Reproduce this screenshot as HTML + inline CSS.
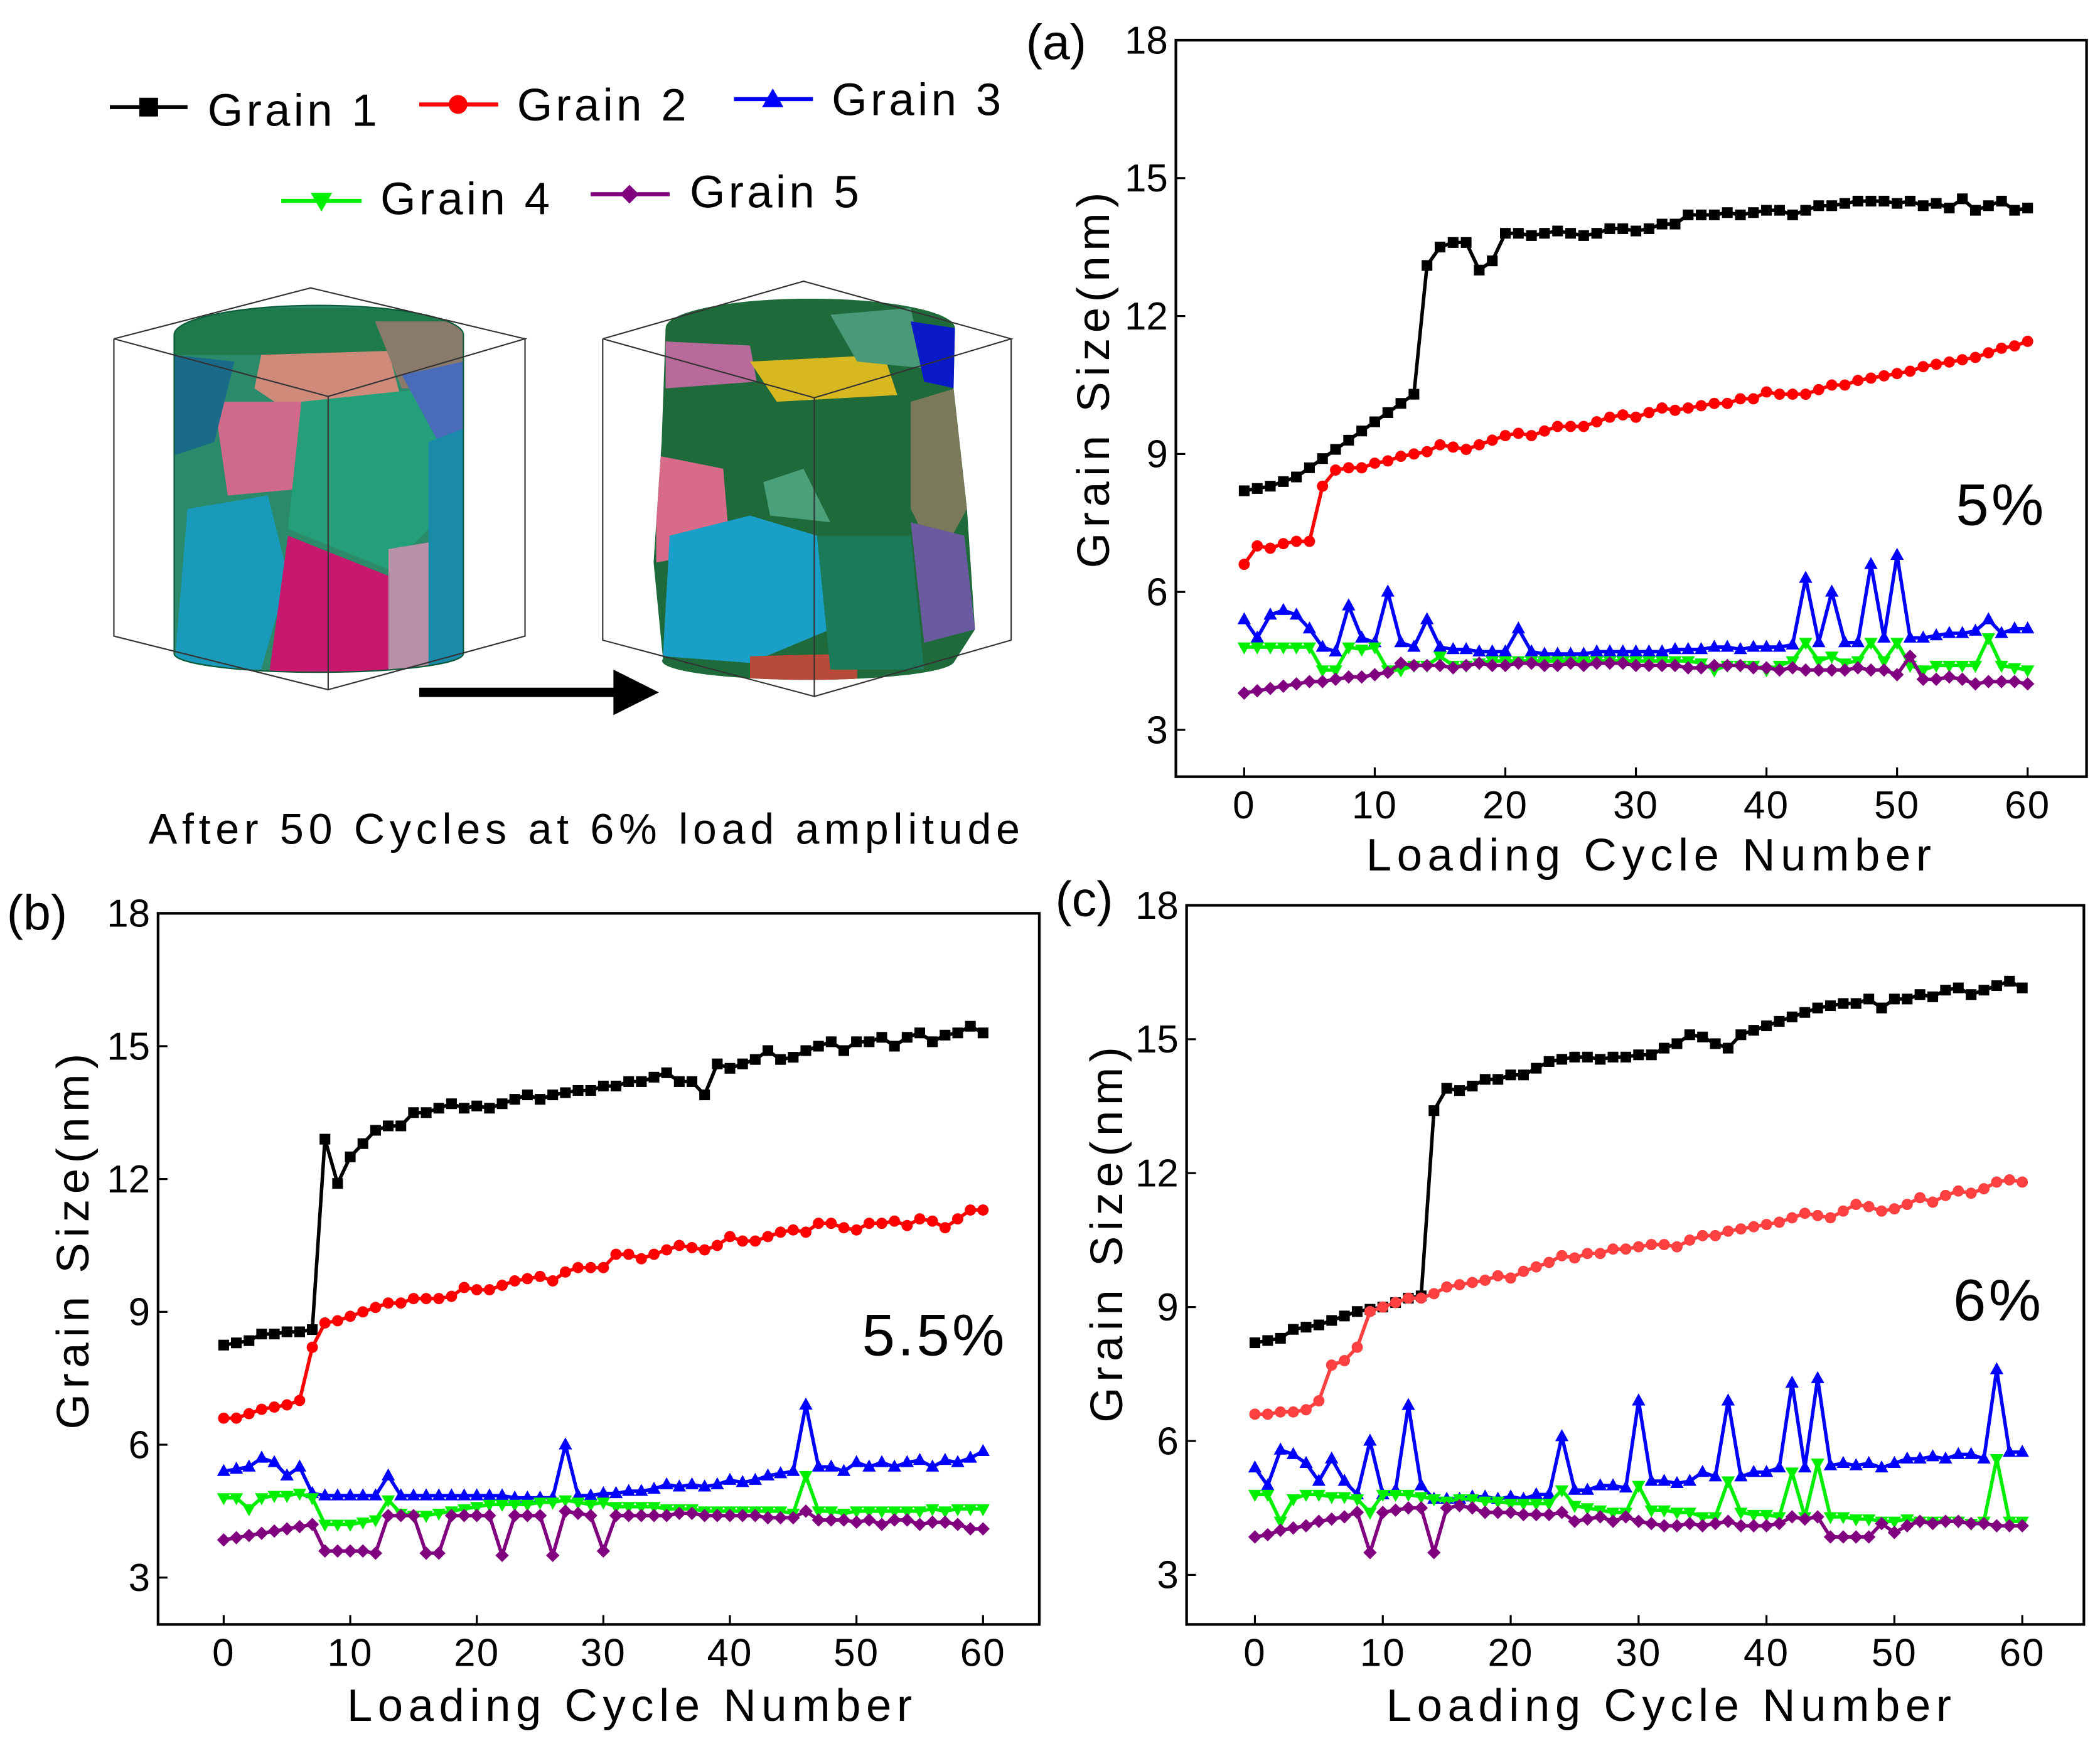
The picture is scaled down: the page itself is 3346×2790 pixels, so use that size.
<!DOCTYPE html>
<html><head><meta charset="utf-8"><style>
html,body{margin:0;padding:0;background:#fff;}
svg{display:block;font-family:"Liberation Sans",sans-serif;}
</style></head><body>
<svg id="fig" width="3346" height="2790" viewBox="0 0 1568 1307.5" xmlns="http://www.w3.org/2000/svg">
<defs>
<clipPath id="cylL"><path d="M130,250 A108,22 0 0 1 346,250 L346,488 A108,14 0 0 1 130,488 Z"/></clipPath>
<clipPath id="cylR"><path d="M497,245 A108,22 0 0 1 713,245 L712,290 L722,380 L728,470 L712,495 A108,14 0 0 1 495,492 L488,420 L494,330 Z"/></clipPath>
</defs>
<g font-size="34" fill="#000" letter-spacing="2.5">
<g><line x1="82" y1="80" x2="140" y2="80" stroke="#000" stroke-width="3"/><rect x="104" y="73" width="14" height="14" fill="#000"/><text x="155" y="94">Grain 1</text></g>
<g><line x1="313" y1="78" x2="372" y2="78" stroke="#f00" stroke-width="3"/><circle cx="342" cy="78" r="7" fill="#f00"/><text x="386" y="90">Grain 2</text></g>
<g><line x1="548" y1="74" x2="607" y2="74" stroke="#00f" stroke-width="3"/><path d="M577,66 L585,80 L569,80 Z" fill="#00f"/><text x="621" y="86">Grain 3</text></g>
<g><line x1="210" y1="150" x2="270" y2="150" stroke="#0e0" stroke-width="3"/><path d="M232,144 L248,144 L240,158 Z" fill="#0e0"/><text x="284" y="160">Grain 4</text></g>
<g><line x1="441" y1="145" x2="500" y2="145" stroke="#800080" stroke-width="3"/><path d="M470,138 L477,145 L470,152 L463,145 Z" fill="#800080"/><text x="515" y="155">Grain 5</text></g>
</g>
<g>
<g clip-path="url(#cylL)">
<rect x="120" y="220" width="240" height="290" fill="#2a8a6a"/>
<polygon points="130,230 346,230 346,265 130,265" fill="#1e7a4a"/>
<polygon points="195,265 290,262 300,300 220,310 190,290" fill="#d08a7a"/>
<polygon points="280,240 346,240 346,290 300,290" fill="#8a7a6a"/>
<polygon points="160,300 225,300 225,365 170,370" fill="#d06a8a"/>
<polygon points="225,300 320,290 335,380 290,425 215,395" fill="#23a07a"/>
<polygon points="300,280 346,270 346,330 330,335" fill="#4a6aba"/>
<polygon points="140,380 200,370 215,430 195,500 130,500" fill="#1a9aba"/>
<polygon points="215,400 290,430 290,510 200,510" fill="#c8186e"/>
<polygon points="290,410 320,405 320,510 290,510" fill="#b890a8"/>
<polygon points="320,330 346,320 346,510 320,510" fill="#1a8aaa"/>
<polygon points="130,265 175,270 160,330 130,340" fill="#1a6a8a"/>
</g>
<path d="M130,250 A108,22 0 0 1 346,250 L346,488 A108,14 0 0 1 130,488 Z" fill="none" stroke="#0a5a3a" stroke-width="1"/>
<g fill="none" stroke="#333" stroke-width="1">
<polyline points="85,253 232,215 392,253 245,296 85,253"/>
<polyline points="85,253 85,475 245,515 392,475 392,253"/>
<line x1="245" y1="296" x2="245" y2="515"/>
</g>
</g>
<g>
<g clip-path="url(#cylR)">
<rect x="480" y="215" width="260" height="300" fill="#1e6a3a"/>
<polygon points="497,255 560,258 565,285 497,290" fill="#b86a9a"/>
<polygon points="560,270 660,265 670,295 580,300" fill="#d8b820"/>
<polygon points="620,235 680,230 690,275 640,270" fill="#4a9a7a"/>
<polygon points="680,240 713,245 713,290 690,285" fill="#0a1ac8"/>
<polygon points="490,340 540,350 545,410 490,420" fill="#d86a8a"/>
<polygon points="500,400 560,385 610,400 620,470 560,495 495,490" fill="#1aa0c8"/>
<polygon points="570,360 600,350 620,390 575,385" fill="#4aa07a"/>
<polygon points="680,300 713,290 722,380 700,420 680,380" fill="#7a7a5a"/>
<polygon points="680,390 720,400 728,470 690,480" fill="#6a5aa0"/>
<polygon points="650,420 670,420 665,445 650,445" fill="#e06a20"/>
<polygon points="560,490 640,488 640,515 560,515" fill="#b84a3a"/>
<polygon points="610,400 680,400 690,500 620,500" fill="#1a7a5a"/>
</g>
<g fill="none" stroke="#333" stroke-width="1">
<polyline points="450,253 600,210 755,253 608,297 450,253"/>
<polyline points="450,253 450,478 608,520 755,478 755,253"/>
<line x1="608" y1="297" x2="608" y2="520"/>
</g>
</g>
<g><line x1="313" y1="517" x2="462" y2="517" stroke="#000" stroke-width="7"/><path d="M458,500 L492,517 L458,534 Z" fill="#000"/></g>
<text x="438" y="630" font-size="32" text-anchor="middle" letter-spacing="3.6">After 50 Cycles at 6% load amplitude</text>
<g id="charts"></g>
</svg>
<script>
const cycles = Array.from({length:61},(_,i)=>i);
const xTicks = [0,10,20,30,40,50,60];
const yTicks = [3,6,9,12,15,18];
const a1=[8.2,8.25,8.3,8.4,8.5,8.7,8.9,9.1,9.3,9.5,9.7,9.9,10.1,10.3,13.1,13.5,13.6,13.6,13.0,13.2,13.8,13.8,13.75,13.8,13.85,13.8,13.75,13.8,13.9,13.9,13.85,13.9,14.0,14.0,14.2,14.2,14.2,14.25,14.2,14.25,14.3,14.3,14.2,14.3,14.4,14.4,14.45,14.5,14.5,14.5,14.45,14.5,14.4,14.45,14.35,14.55,14.3,14.4,14.5,14.3,14.35];
const a2=[6.6,7.0,6.95,7.05,7.1,7.1,8.3,8.65,8.7,8.7,8.8,8.85,8.95,9.0,9.05,9.2,9.15,9.1,9.2,9.3,9.4,9.45,9.4,9.5,9.6,9.6,9.6,9.7,9.8,9.85,9.8,9.9,10.0,9.95,10.0,10.05,10.1,10.1,10.2,10.2,10.35,10.3,10.3,10.3,10.4,10.5,10.5,10.6,10.65,10.7,10.75,10.8,10.9,10.95,11.0,11.05,11.1,11.2,11.3,11.35,11.45];
const a3=[5.4,5.0,5.5,5.6,5.5,5.2,4.8,4.7,5.7,5.0,4.9,6.0,4.9,4.8,5.4,4.8,4.75,4.75,4.7,4.7,4.7,5.2,4.7,4.65,4.65,4.65,4.65,4.7,4.7,4.7,4.7,4.7,4.7,4.75,4.75,4.75,4.8,4.8,4.75,4.8,4.8,4.8,4.85,6.3,4.9,6.0,4.9,4.9,6.6,5.0,6.8,5.0,5.0,5.05,5.1,5.1,5.15,5.4,5.1,5.2,5.2];
const a4=[4.8,4.8,4.8,4.8,4.8,4.8,4.3,4.3,4.8,4.75,4.8,4.3,4.3,4.4,4.4,4.6,4.4,4.4,4.45,4.5,4.5,4.5,4.5,4.5,4.5,4.5,4.5,4.5,4.5,4.5,4.5,4.5,4.5,4.5,4.5,4.45,4.3,4.4,4.4,4.4,4.3,4.4,4.5,4.9,4.5,4.6,4.45,4.5,4.9,4.5,4.9,4.4,4.3,4.4,4.4,4.4,4.4,5.0,4.4,4.35,4.3];
const a5=[3.8,3.85,3.9,3.95,4.0,4.05,4.05,4.1,4.15,4.15,4.2,4.25,4.45,4.4,4.4,4.4,4.35,4.4,4.45,4.4,4.4,4.45,4.45,4.4,4.4,4.45,4.4,4.45,4.45,4.45,4.4,4.4,4.4,4.4,4.35,4.35,4.4,4.4,4.4,4.35,4.35,4.3,4.35,4.3,4.3,4.3,4.3,4.35,4.3,4.3,4.2,4.6,4.1,4.1,4.15,4.1,4.0,4.05,4.05,4.05,4.0];
const b1=[8.25,8.3,8.35,8.5,8.5,8.55,8.55,8.6,12.9,11.9,12.5,12.8,13.1,13.2,13.2,13.5,13.5,13.6,13.7,13.6,13.65,13.6,13.7,13.8,13.9,13.8,13.9,13.95,14.0,14.0,14.1,14.1,14.2,14.2,14.3,14.4,14.2,14.2,13.9,14.6,14.5,14.6,14.7,14.9,14.7,14.75,14.9,15.0,15.1,14.9,15.1,15.1,15.2,15.0,15.2,15.3,15.1,15.25,15.3,15.45,15.3];
const b2=[6.6,6.6,6.7,6.8,6.85,6.9,7.0,8.2,8.75,8.8,8.9,9.0,9.1,9.2,9.2,9.3,9.3,9.3,9.35,9.55,9.5,9.5,9.6,9.7,9.75,9.8,9.7,9.9,10.0,10.0,10.0,10.3,10.3,10.2,10.3,10.4,10.5,10.45,10.4,10.5,10.7,10.6,10.6,10.7,10.8,10.85,10.8,11.0,11.0,10.9,10.85,11.0,11.0,11.05,10.95,11.1,11.05,10.9,11.1,11.3,11.3];
const b3=[5.4,5.45,5.5,5.7,5.6,5.3,5.5,4.9,4.85,4.85,4.85,4.85,4.85,5.3,4.85,4.85,4.85,4.85,4.85,4.85,4.85,4.85,4.85,4.8,4.8,4.8,4.8,6.0,4.85,4.85,4.9,4.9,4.95,4.95,5.0,5.1,5.05,5.1,5.05,5.1,5.2,5.15,5.2,5.3,5.35,5.4,6.9,5.5,5.5,5.4,5.6,5.5,5.6,5.5,5.6,5.65,5.5,5.65,5.6,5.7,5.85];
const b4=[4.8,4.8,4.55,4.8,4.85,4.85,4.9,4.8,4.2,4.2,4.2,4.25,4.3,4.75,4.45,4.4,4.4,4.45,4.5,4.55,4.6,4.65,4.65,4.65,4.65,4.7,4.7,4.75,4.7,4.65,4.7,4.6,4.6,4.6,4.6,4.55,4.55,4.55,4.5,4.5,4.5,4.5,4.5,4.5,4.5,4.45,5.3,4.5,4.5,4.45,4.5,4.5,4.5,4.5,4.5,4.5,4.55,4.5,4.55,4.55,4.55];
const b5=[3.85,3.9,3.95,4.0,4.05,4.1,4.15,4.2,3.6,3.6,3.6,3.6,3.55,4.4,4.4,4.4,3.55,3.55,4.4,4.4,4.4,4.4,3.5,4.4,4.4,4.4,3.5,4.5,4.45,4.4,3.6,4.4,4.4,4.4,4.4,4.4,4.45,4.45,4.4,4.4,4.4,4.4,4.4,4.35,4.35,4.35,4.5,4.3,4.3,4.3,4.25,4.3,4.2,4.3,4.3,4.2,4.25,4.25,4.2,4.1,4.1];
const c1=[8.2,8.25,8.3,8.5,8.55,8.6,8.7,8.8,8.9,8.95,9.0,9.1,9.2,9.25,13.4,13.9,13.85,13.95,14.1,14.1,14.2,14.2,14.35,14.5,14.55,14.6,14.6,14.55,14.6,14.6,14.65,14.65,14.8,14.9,15.1,15.05,14.9,14.8,15.1,15.2,15.3,15.4,15.5,15.6,15.7,15.75,15.8,15.8,15.9,15.7,15.9,15.9,16.0,15.95,16.1,16.15,16.0,16.1,16.2,16.3,16.15];
const c2=[6.6,6.6,6.65,6.65,6.7,6.9,7.7,7.8,8.1,8.9,9.0,9.1,9.2,9.2,9.3,9.45,9.5,9.55,9.6,9.7,9.65,9.8,9.9,10.0,10.15,10.1,10.2,10.2,10.3,10.3,10.35,10.4,10.4,10.35,10.5,10.6,10.6,10.7,10.75,10.8,10.85,10.9,11.0,11.1,11.05,11.0,11.15,11.3,11.25,11.15,11.2,11.3,11.45,11.35,11.5,11.6,11.55,11.65,11.8,11.85,11.8];
const c3=[5.4,5.0,5.8,5.7,5.5,5.1,5.6,5.1,4.8,6.0,4.8,4.9,6.8,5.0,4.7,4.7,4.7,4.75,4.75,4.7,4.75,4.7,4.8,4.8,6.1,4.9,4.9,5.0,5.0,4.95,6.9,5.1,5.1,5.05,5.1,5.3,5.2,6.9,5.2,5.3,5.3,5.4,7.3,5.4,7.4,5.45,5.5,5.45,5.5,5.4,5.5,5.6,5.6,5.65,5.6,5.7,5.7,5.6,7.6,5.75,5.75];
const c4=[4.8,4.8,4.2,4.7,4.8,4.8,4.75,4.75,4.7,4.4,4.8,4.8,4.8,4.75,4.7,4.65,4.7,4.7,4.65,4.65,4.6,4.6,4.6,4.6,4.9,4.55,4.5,4.45,4.4,4.4,5.0,4.45,4.45,4.4,4.4,4.3,4.3,5.1,4.4,4.35,4.35,4.3,5.3,4.3,5.5,4.3,4.3,4.25,4.25,4.2,4.2,4.25,4.2,4.2,4.2,4.2,4.15,4.2,5.6,4.2,4.2];
const c5=[3.85,3.9,4.0,4.05,4.1,4.2,4.25,4.3,4.4,3.5,4.4,4.45,4.5,4.5,3.5,4.5,4.55,4.5,4.4,4.4,4.4,4.35,4.35,4.35,4.4,4.2,4.25,4.3,4.2,4.3,4.2,4.15,4.1,4.1,4.15,4.1,4.15,4.2,4.1,4.1,4.1,4.15,4.3,4.25,4.3,3.85,3.85,3.85,3.85,4.15,3.95,4.1,4.2,4.15,4.2,4.2,4.15,4.15,4.1,4.1,4.1];

const NS="http://www.w3.org/2000/svg";
const root=document.getElementById('charts');
function mk(tag,attrs,parent){const e=document.createElementNS(NS,tag);for(const k in attrs)e.setAttribute(k,attrs[k]);parent.appendChild(e);return e;}
function marker(g,type,x,y,color){
  let m;
  if(type==='square') m=mk('rect',{x:x-4,y:y-4,width:8,height:8,fill:color},g);
  else if(type==='circle') m=mk('circle',{cx:x,cy:y,r:4.2,fill:color},g);
  else if(type==='up') m=mk('path',{d:`M${x},${y-5.5}L${x+5},${y+3.5}L${x-5},${y+3.5}Z`,fill:color},g);
  else if(type==='down') m=mk('path',{d:`M${x},${y+5.5}L${x+5},${y-3.5}L${x-5},${y-3.5}Z`,fill:color},g);
  else m=mk('path',{d:`M${x},${y-5}L${x+5},${y}L${x},${y+5}L${x-5},${y}Z`,fill:color},g);
  
  
}
const styles=[['square','#000'],['circle','#f00'],['up','#00f'],['down','#0e0'],['diamond','#800080']];
function chart(cfg){
  const g=mk('g',{},root);
  
  
  const X=v=>cfg.x0+(v-0)*(cfg.x60-cfg.x0)/60;
  const Y=v=>cfg.y3+(v-3)*(cfg.y18-cfg.y3)/15;
  const fr=mk('rect',{x:cfg.bx0,y:cfg.by0,width:cfg.bx1-cfg.bx0,height:cfg.by1-cfg.by0,fill:'none',stroke:'#000','stroke-width':2},g);
  
  
  xTicks.forEach(t=>{
    mk('line',{x1:X(t),y1:cfg.by1,x2:X(t),y2:cfg.by1-7,stroke:'#000','stroke-width':1.5},g);
    const tx=mk('text',{x:X(t),y:cfg.by1+31,'font-size':29,'text-anchor':'middle','letter-spacing':1},g);
    tx.textContent=t;
    
    
  });
  yTicks.forEach(t=>{
    mk('line',{x1:cfg.bx0,y1:Y(t),x2:cfg.bx0+7,y2:Y(t),stroke:'#000','stroke-width':1.5},g);
    const tx=mk('text',{x:cfg.bx0-6,y:Y(t)+10,'font-size':29,'text-anchor':'end'},g);
    tx.textContent=t;
    
    
  });
  cfg.series.forEach((s,i)=>{
    const sg=mk('g',{},g);
    
    
    const col=(i===1&&cfg.lightRed)?'#ff4040':styles[i][1];
    const pts=s.map((v,j)=>X(cycles[j])+','+Y(v)).join(' ');
    const pl=mk('polyline',{points:pts,fill:'none',stroke:col,'stroke-width':2.6,'stroke-linejoin':'round'},sg);
    
    
    s.forEach((v,j)=>marker(sg,styles[i][0],X(cycles[j]),Y(v),col));
  });
  const yt=mk('text',{x:0,y:0,'font-size':34,'text-anchor':'middle','letter-spacing':4,transform:`translate(${cfg.ytx},${cfg.yty}) rotate(-90)`},g);
  yt.textContent='Grain Size(nm)';
  
  
  const xt=mk('text',{x:cfg.xtx,y:cfg.xty,'font-size':34,'text-anchor':'middle','letter-spacing':4},g);
  xt.textContent='Loading Cycle Number';
  
  
  const pl=mk('text',{x:cfg.plx,y:cfg.ply,'font-size':37},g);
  pl.textContent=cfg.label;
  
  
  const am=mk('text',{x:cfg.amx,y:cfg.amy,'font-size':44,'text-anchor':'end','letter-spacing':2},g);
  am.textContent=cfg.amp;
  
  
}
chart({name:'chart-a',bx0:878,bx1:1558,by0:30,by1:580,x0:929,x60:1514,y3:545,y18:30,series:[a1,a2,a3,a4,a5],ytx:828,yty:282,xtx:1233,xty:650,label:'(a)',plx:766,ply:44,amp:'5%',amx:1528,amy:392});
chart({name:'chart-b',bx0:118,bx1:776,by0:682,by1:1213,x0:167,x60:734,y3:1178,y18:682,series:[b1,b2,b3,b4,b5],ytx:66,yty:925,xtx:472,xty:1285,label:'(b)',plx:5,ply:694,amp:'5.5%',amx:752,amy:1012});
chart({name:'chart-c',bx0:886,bx1:1556,by0:676,by1:1213,x0:937,x60:1510,y3:1176,y18:676,series:[c1,c2,c3,c4,c5],ytx:838,yty:920,xtx:1248,xty:1285,label:'(c)',plx:788,ply:684,amp:'6%',amx:1526,amy:986,lightRed:true});
</script>
</body></html>
